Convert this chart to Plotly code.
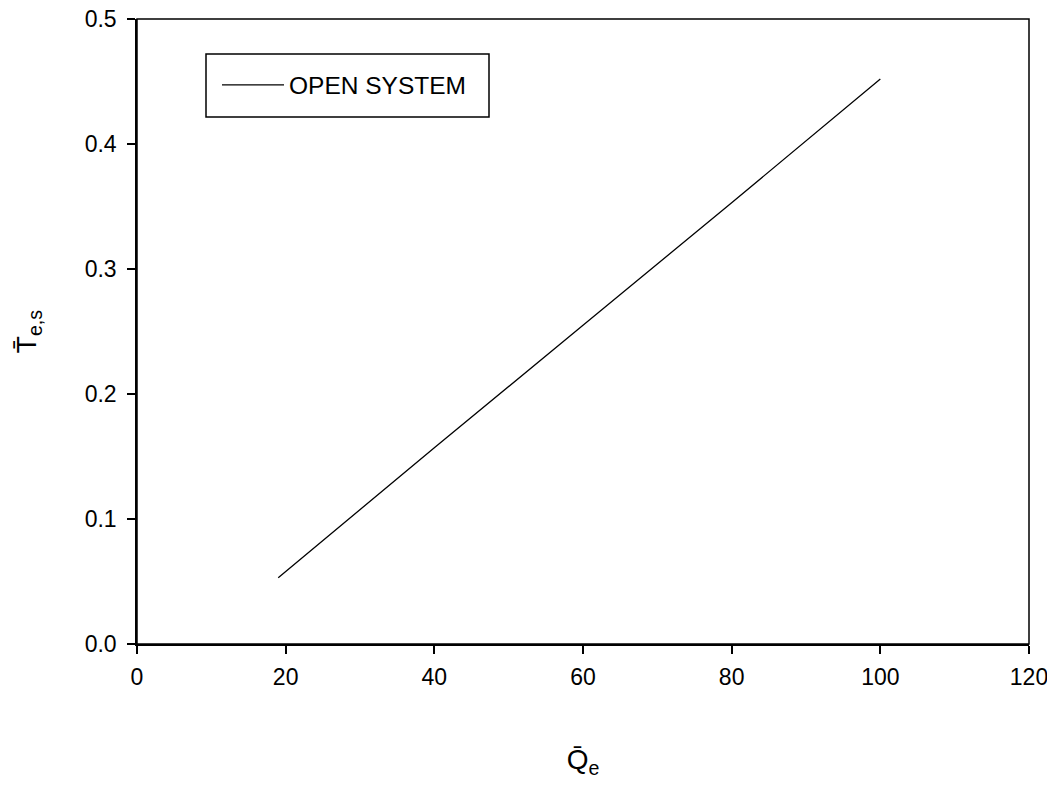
import plotly.graph_objects as go

q_e = [19, 40, 60, 80, 100]
t_es = [0.053, 0.157, 0.255, 0.353, 0.452]
series_name = "OPEN SYSTEM"
x_ticks = [0, 20, 40, 60, 80, 100, 120]
y_ticks = [0, 0.1, 0.2, 0.3, 0.4, 0.5]

FONT = "Liberation Sans"

fig = go.Figure()
fig.add_trace(go.Scatter(x=q_e, y=t_es, mode="lines", name=series_name,
                         line=dict(color="black", width=1.3)))

axis_common = dict(showgrid=False, zeroline=False, showline=True, linecolor="black",
                   linewidth=1.5, ticks="outside", ticklen=8, tickwidth=1.5,
                   tickcolor="black", tickfont=dict(family=FONT, size=23, color="black"),
                   ticklabeloverflow="allow", automargin=False, mirror=False)

# figure is drawn inside an 8px page margin
W, H = 1039, 771
L, R, T, B = 129, 18, 11, 135
plot_w = W - L - R
plot_h = H - T - B

fig.update_layout(
    width=W, height=H,
    margin=dict(l=L, r=R, t=T, b=B, autoexpand=False),
    plot_bgcolor="white", paper_bgcolor="white",
    showlegend=True,
    legend=dict(x=80 / plot_w, y=1 - 66 / plot_h, xanchor="left", yanchor="middle",
                bgcolor="rgba(0,0,0,0)", borderwidth=0,
                font=dict(family=FONT, size=24.5, color="black"),
                itemwidth=62),
    xaxis=dict(range=[0, 120], tickvals=x_ticks,
               title=dict(text="Q\u0304<sub>e</sub>", standoff=62,
                          font=dict(family=FONT, size=28, color="black")),
               ticklabelstandoff=4, **axis_common),
    yaxis=dict(range=[0, 0.5], tickvals=y_ticks, tickformat=".1f",
               title=dict(text="T\u0304<sub>e,s</sub>", standoff=40,
                          font=dict(family=FONT, size=28, color="black")),
               ticklabelstandoff=6, **axis_common),
    shapes=[
        dict(type="rect", xref="paper", yref="paper", x0=0, x1=1, y0=0, y1=1,
             line=dict(color="black", width=1.5), layer="above"),
        dict(type="rect", xref="paper", yref="paper",
             x0=69 / plot_w, x1=352 / plot_w,
             y0=1 - 98 / plot_h, y1=1 - 35 / plot_h,
             line=dict(color="black", width=1.5)),
    ],
)

fig.write_html("out.html")
